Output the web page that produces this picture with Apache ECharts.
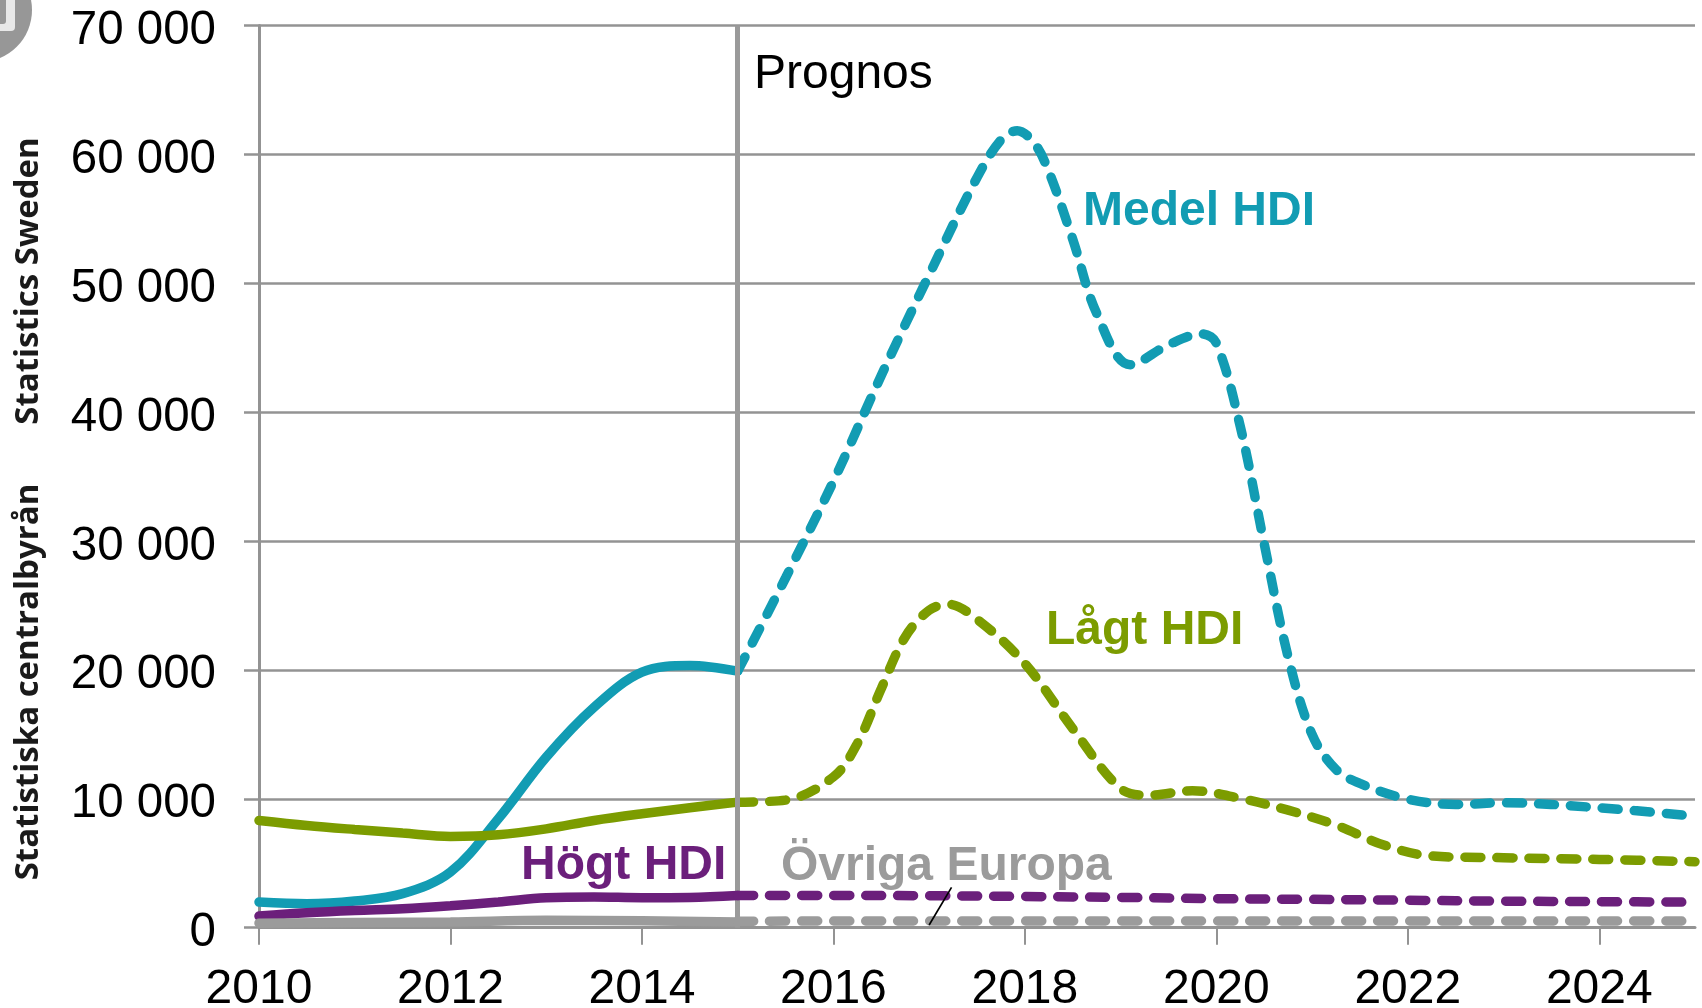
<!DOCTYPE html>
<html>
<head>
<meta charset="utf-8">
<title>Prognos HDI</title>
<style>html,body{margin:0;background:#fff}#chart{width:1702px;height:1008px}</style>
<script src="https://cdn.jsdelivr.net/npm/echarts@6/dist/echarts.min.js"></script>
</head>
<body>
<div id="chart"></div>
<script>
const xTicks = [2010,2012,2014,2016,2018,2020,2022,2024];
const yMax = 70000;

// [år, antal]
const medelHist = [[2010,1990],[2010.5,1860],[2011,2070],[2011.5,2640],[2012,4315],[2012.5,8450],[2013,13230],[2013.5,17100],[2014,19820],[2014.5,20340],[2015,19900]];
const medelProg = [[2015,19900],[2015.5,27130],[2016,34630],[2016.5,42840],[2017,50650],[2017.5,58190],[2017.75,61110],[2017.92,61830],[2018.1,60850],[2018.25,58660],[2018.5,53410],[2018.75,47670],[2019.1,43670],[2019.5,45220],[2019.85,46070],[2020,45350],[2020.25,38890],[2020.5,29790],[2020.75,21010],[2021,14990],[2021.25,12270],[2021.5,11190],[2022,9970],[2022.5,9560],[2023,9690],[2024,9300],[2025,8650]];
const lagtHist = [[2010,8320],[2010.5,7930],[2011,7620],[2011.5,7340],[2012,7080],[2012.5,7210],[2013,7670],[2013.5,8320],[2014,8840],[2014.5,9300],[2015,9740]];
const lagtProg = [[2015,9740],[2015.5,9900],[2016,11700],[2016.25,14290],[2016.5,18550],[2016.75,22560],[2017,24630],[2017.2,25090],[2017.5,23930],[2018,20490],[2018.5,15450],[2019,10800],[2019.3,10280],[2019.75,10620],[2020.25,10030],[2020.75,9120],[2021.25,7960],[2021.75,6410],[2022.25,5560],[2023,5430],[2024,5300],[2025,5120]];
const hogtHist = [[2010,900],[2010.5,1160],[2011,1340],[2011.5,1470],[2012,1700],[2012.5,1990],[2013,2330],[2013.5,2380],[2014,2330],[2014.5,2350],[2015,2500]];
const hogtProg = [[2015,2500],[2016,2500],[2017,2480],[2018,2420],[2019,2350],[2020,2250],[2021,2200],[2022,2130],[2023,2060],[2024,2020],[2025,1980]];
const ovrigaHist = [[2010,350],[2011,400],[2012,450],[2013,570],[2014,530],[2015,450]];
const ovrigaProg = [[2015,500],[2016,520],[2017,520],[2018,520],[2019,520],[2020,520],[2021,520],[2022,520],[2023,520],[2024,520],[2025,520]];

const BLUE = '#129cb3', GREEN = '#7c9c00', PURPLE = '#6b1f7b', GREY = '#9b9b9b', AXIS = '#939393';
const FONT = '"Liberation Sans", Arial, sans-serif';

function line(name, data, color, dashed, extra) {
  return Object.assign({
    name, type: 'line', data, smooth: 0.35, showSymbol: false, silent: true,
    lineStyle: {color, width: 9.5, cap: 'round', type: dashed ? [16, 16] : 'solid'}
  }, extra);
}

function label(text, x, y, color) {
  return {type: 'text', x, y, style: {text, fill: color, font: `bold 48px ${FONT}`, textVerticalAlign: 'middle'}};
}

function sideText(text, y) {
  return {type: 'text', x: 29, y, rotation: Math.PI / 2,
    style: {text, fill: '#1a1a1a', font: 'bold 33px "Open Sans", sans-serif', textAlign: 'center', textVerticalAlign: 'middle'}};
}

const chart = echarts.init(document.getElementById('chart'));
chart.setOption({
  animation: false,
  grid: {left: 259, right: 7, top: 25.4, bottom: 80.3, outerBoundsMode: 'none'},
  xAxis: {
    type: 'value', min: 2010, max: 2025,
    splitLine: {show: false},
    axisLine: {onZero: false, lineStyle: {color: AXIS, width: 3}},
    axisTick: {length: 17, lineStyle: {color: AXIS, width: 2}, customValues: xTicks},
    axisLabel: {color: '#000', fontFamily: FONT, fontSize: 48, margin: 38, customValues: xTicks, formatter: v => String(v)}
  },
  yAxis: {
    type: 'value', min: 0, max: yMax, interval: 10000,
    splitLine: {lineStyle: {color: AXIS, width: 2.5}},
    axisLine: {show: true, lineStyle: {color: AXIS, width: 3}},
    axisTick: {show: true, length: 15, lineStyle: {color: AXIS, width: 2.5}},
    axisLabel: {color: '#000', fontFamily: FONT, fontSize: 47.5, margin: 43, verticalAlign: 'top', lineHeight: 11,
      formatter: v => v === 0 ? '0' : String(v / 1000) + ' 000'}
  },
  series: [
    line('Medel HDI', medelHist, BLUE, false, {
      z: 3,
      markLine: {silent: true, symbol: 'none', label: {show: false}, z: 4.5,
        lineStyle: {color: '#9a9a9a', width: 5, type: 'solid'},
        data: [[{coord: [2015, 0]}, {coord: [2015, yMax]}]]}
    }),
    line('Medel HDI prognos', medelProg, BLUE, true, {z: 3}),
    line('Lågt HDI', lagtHist, GREEN, false, {z: 4}),
    line('Lågt HDI prognos', lagtProg, GREEN, true, {z: 4}),
    line('Högt HDI', hogtHist, PURPLE, false, {z: 5}),
    line('Högt HDI prognos', hogtProg, PURPLE, true, {z: 5}),
    line('Övriga Europa', ovrigaHist, GREY, false, {z: 5}),
    line('Övriga Europa prognos', ovrigaProg, GREY, true, {
      z: 5,
      markLine: {silent: true, symbol: 'none', label: {show: false}, z: 6,
        lineStyle: {color: '#000', width: 1.7, type: 'solid'},
        data: [[{coord: [2017.0, 210]}, {coord: [2017.234, 3130]}]]}
    })
  ],
  graphic: [
    {type: 'circle', shape: {cx: -20, cy: 10, r: 52}, style: {fill: '#979797'}},
    {type: 'rect', shape: {x: -10, y: -10, width: 25, height: 41, r: 4}, style: {fill: '#e8e8e8'}},
    {type: 'rect', shape: {x: -10, y: -10, width: 16, height: 34, r: 3}, style: {fill: '#979797'}},
    {type: 'text', x: 754, y: 75, style: {text: 'Prognos', fill: '#000', font: `48px ${FONT}`, textVerticalAlign: 'middle'}},
    label('Medel HDI', 1083, 212, BLUE),
    label('Lågt HDI', 1046, 631, GREEN),
    label('Högt HDI', 521, 866, PURPLE),
    label('Övriga Europa', 781, 867, GREY),
    sideText('Statistics Sweden', 281),
    sideText('Statistiska centralbyrån', 682)
  ]
});
</script>
</body>
</html>
